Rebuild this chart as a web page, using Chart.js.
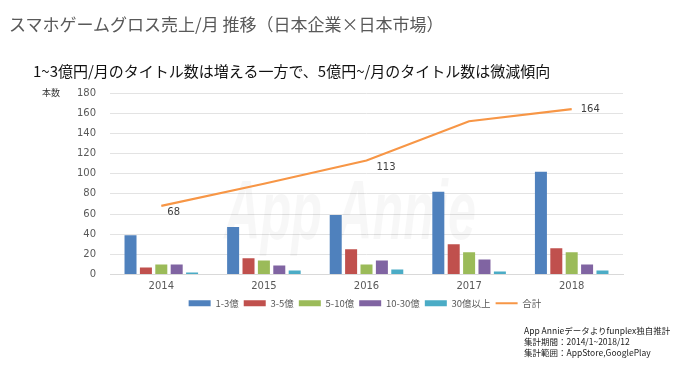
<!DOCTYPE html>
<html>
<head>
<meta charset="utf-8">
<script src="https://cdn.jsdelivr.net/npm/chart.js@4"></script>
<style>
  body { margin: 0; background: #fff; font-family: 'Noto Sans CJK JP', sans-serif; }
  #wrap { position: relative; width: 680px; height: 382px; overflow: hidden; }
  #grafico { position: absolute; left: 0; top: 0; }
  .txt { position: absolute; white-space: nowrap; }
  #titulo { left: 9px; top: 11px; font-size: 17px; color: #595959; }
  #sub { left: 33px; top: 60px; font-size: 15px; color: #111; }
  #unidad { left: 42px; top: 86px; font-size: 9px; color: #333; }
  #nota { left: 524px; top: 325px; font-size: 8.5px; line-height: 11px; color: #222; }
</style>
</head>
<body>
<div id="wrap">
  <canvas id="grafico" width="680" height="382"></canvas>
  <div class="txt" id="titulo">スマホゲームグロス売上/月 推移（日本企業×日本市場）</div>
  <div class="txt" id="sub">1~3億円/月のタイトル数は増える一方で、5億円~/月のタイトル数は微減傾向</div>
  <div class="txt" id="unidad">本数</div>
  <div class="txt" id="nota">App Annieデータよりfunplex独自推計<br>集計期間：2014/1~2018/12<br>集計範囲：AppStore,GooglePlay</div>
</div>
<script>
// Datos
var anios = ['2014', '2015', '2016', '2017', '2018'];
var oku1a3 = [39, 47, 59, 82, 102];
var oku3a5 = [7, 16, 25, 30, 26];
var oku5a10 = [10, 14, 10, 22, 22];
var oku10a30 = [10, 9, 14, 15, 10];
var oku30mas = [2, 4, 5, 3, 4];
var total = [68, 90, 113, 152, 164];
var ticksY = [0, 20, 40, 60, 80, 100, 120, 140, 160, 180];
var etiquetasTotal = [0, 2, 4]; // índices con etiqueta de valor

function barra(nombre, valores, color) {
    return {
        type: 'bar',
        label: nombre,
        data: valores,
        backgroundColor: color,
        borderWidth: 0,
        pointStyle: 'rect',
        categoryPercentage: 0.75,
        barPercentage: 0.78,
        order: 2
    };
}

// Marca de agua "App Annie"
var marcaAgua = {
    id: 'marcaAgua',
    beforeDatasetsDraw: function (chart) {
        var c = chart.ctx;
        c.save();
        c.translate(350, 216);
        c.scale(0.6, 1);
        c.font = 'italic bold 84px "Liberation Sans", sans-serif';
        c.fillStyle = 'rgba(0,0,0,0.03)';
        c.textAlign = 'center';
        c.fillText('App Annie', 0, 0);
        c.restore();
    }
};

// Desplazar la leyenda a la derecha como en el original
var moverLeyenda = {
    id: 'moverLeyenda',
    afterLayout: function (chart) {
        chart.legend.left += 26;
        chart.legend.right += 26;
    }
};

// Etiquetas de valor del total
var etiquetas = {
    id: 'etiquetas',
    afterDatasetsDraw: function (chart) {
        var meta = chart.getDatasetMeta(5);
        var c = chart.ctx;
        c.save();
        c.font = '10px "DejaVu Sans", sans-serif';
        c.fillStyle = '#404040';
        c.textBaseline = 'middle';
        var desplaz = { 0: [6, 6], 2: [10, 7], 4: [9, 0] };
        etiquetasTotal.forEach(function (i) {
            var p = meta.data[i];
            c.fillText(String(total[i]), p.x + desplaz[i][0], p.y + desplaz[i][1]);
        });
        c.restore();
    }
};

var ctx = document.getElementById('grafico').getContext('2d');
var grafico = new Chart(ctx, {
    data: {
        labels: anios,
        datasets: [
            barra('1-3億', oku1a3, '#4F81BD'),
            barra('3-5億', oku3a5, '#C0504D'),
            barra('5-10億', oku5a10, '#9BBB59'),
            barra('10-30億', oku10a30, '#8064A2'),
            barra('30億以上', oku30mas, '#4BACC6'),
            {
                type: 'line',
                label: '合計',
                data: total,
                borderColor: '#F79646',
                backgroundColor: '#F79646',
                borderWidth: 2.2,
                pointRadius: 0,
                pointStyle: 'line',
                tension: 0,
                order: 1
            }
        ]
    },
    options: {
        responsive: false,
        animation: false,
        layout: { padding: { left: 55, right: 57, top: 93, bottom: 64 } },
        plugins: {
            tooltip: { enabled: false },
            legend: {
                position: 'bottom',
                labels: {
                    usePointStyle: true,
                    pointStyleWidth: 22,
                    boxHeight: 6,
                    padding: 5,
                    color: '#595959',
                    font: { size: 9.5, family: '"Noto Sans CJK JP", sans-serif' },
                    sort: function (a, b) { return a.datasetIndex - b.datasetIndex; }
                }
            }
        },
        scales: {
            x: {
                afterFit: function (axis) { axis.height = 19; },
                grid: { display: false, drawTicks: false },
                border: { color: '#d9d9d9' },
                ticks: { color: '#595959', padding: 6, font: { size: 10, family: '"DejaVu Sans", sans-serif' } }
            },
            y: {
                min: 0,
                max: 180,
                afterBuildTicks: function (axis) {
                    axis.ticks = ticksY.map(function (v) { return { value: v }; });
                },
                afterFit: function (axis) { axis.width = 55; },
                grid: { color: '#e3e3e3', drawTicks: false },
                border: { display: false },
                ticks: { color: '#595959', padding: 14, font: { size: 10, family: '"DejaVu Sans", sans-serif' } }
            }
        }
    },
    plugins: [marcaAgua, moverLeyenda, etiquetas]
});
</script>
</body>
</html>
